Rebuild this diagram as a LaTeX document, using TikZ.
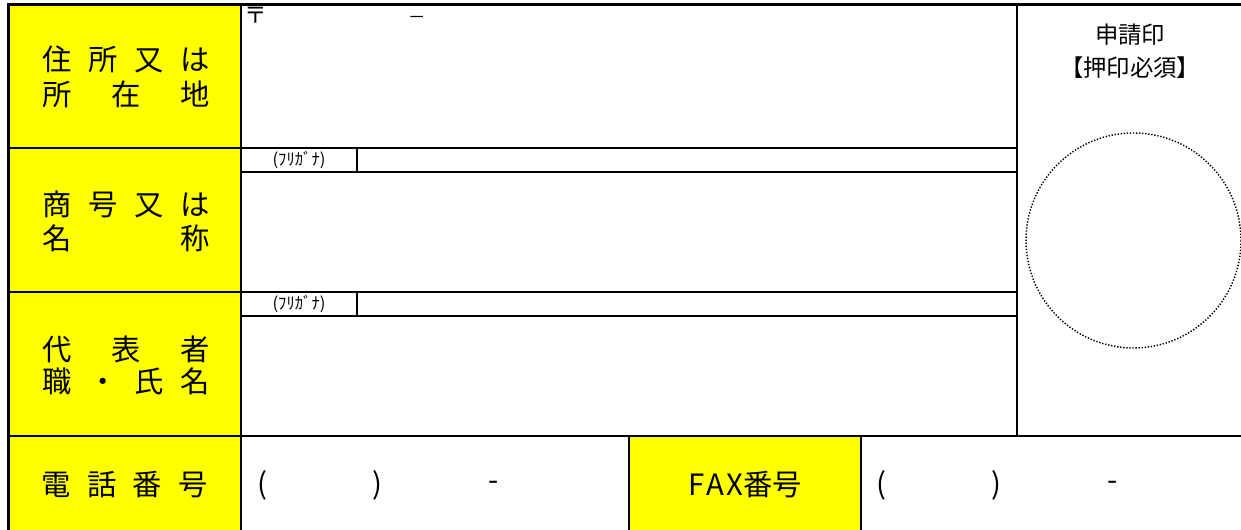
\documentclass[tikz,border=0pt]{standalone}
\usepackage{fontspec}
\setmainfont{Noto Sans CJK JP}
\definecolor{labelyellow}{HTML}{FFFF00}
\begin{document}
\begin{tikzpicture}[x=0.75pt,y=-0.75pt,
  thinline/.style={line width=0.8pt},
  thickline/.style={line width=2pt},
  lab/.style={font=\fontsize{22}{26}\selectfont, inner sep=0pt, anchor=center},
  seal/.style={font=\fontsize{17.5}{20}\selectfont, inner sep=0pt, anchor=center},
  kana/.style={font=\fontsize{12.5}{14}\selectfont, inner sep=0pt, anchor=center},
  zipmark/.style={font=\fontsize{17}{19}\selectfont, inner sep=0pt, anchor=center},
  zipdash/.style={font=\fontsize{13}{15}\selectfont, inner sep=0pt, anchor=center},
  dotring/.style={line width=1.1pt, dash pattern=on 1pt off 1.3pt}]
\useasboundingbox (0,0) rectangle (1241,530);
\fill[white] (0,0) rectangle (1241,530);
% yellow label cells
\fill[labelyellow] (8.5,4.5) rectangle (241,530);
\fill[labelyellow] (629,436) rectangle (861,530);
% thin rules
\draw[thinline] (8.5,148) -- (1017,148);
\draw[thinline] (8.5,292) -- (1017,292);
\draw[thinline] (241,172) -- (1017,172);
\draw[thinline] (241,316) -- (1017,316);
\draw[thinline] (357,148) -- (357,172);
\draw[thinline] (357,292) -- (357,316);
\draw[thinline] (8.5,436) -- (1241,436);
\draw[thinline] (241,4.5) -- (241,530);
\draw[thinline] (1017,4.5) -- (1017,436);
\draw[thinline] (629,436) -- (629,530);
\draw[thinline] (861,436) -- (861,530);
% thick outer border
\draw[thickline] (8.5,530) -- (8.5,3.5);
\draw[thickline] (7.5,4.5) -- (1241,4.5);
% labels
\node[lab] (l1a) at (126,59.5) {\makebox[125.5pt]{住\hfill 所\hfill 又\hfill は}};
\node[lab] (l1b) at (126,94) {\makebox[125.5pt]{所\hfill 在\hfill 地}};
\node[lab] (l2a) at (126,204) {\makebox[125.5pt]{商\hfill 号\hfill 又\hfill は}};
\node[lab] (l2b) at (126,238) {\makebox[125.5pt]{名\hfill 称}};
\node[lab] (l3a) at (126,349) {\makebox[125.5pt]{代\hfill 表\hfill 者}};
\node[lab] (l3b) at (126,381) {\makebox[125.5pt]{職\hfill ・\hfill 氏\hfill 名}};
\node[lab] (l4) at (124.5,485) {\makebox[124.5pt]{電\hfill 話\hfill 番\hfill 号}};
\node[lab] (fax) at (745,485) {F\kern1.5pt A\kern1.5pt X番号};
% telephone blanks
\node[lab] (tp1) at (262,485) {(};
\node[lab] (tp2) at (377,485) {)};
\node[lab] (td) at (494,486) {-};
\node[lab] (fp1) at (881,485) {(};
\node[lab] (fp2) at (996,485) {)};
\node[lab] (fd) at (1113,486) {-};
% address marks
\node[zipmark] (zip) at (255.5,15.5) {〒};
\node[zipdash] (zd) at (417,20) {－};
% furigana
\node[kana] (k1) at (299,160) {(ﾌﾘｶﾞﾅ)};
\node[kana] (k2) at (299,304) {(ﾌﾘｶﾞﾅ)};
% seal
\node[seal] (s1) at (1130,35) {申請印};
\node[seal] (s2) at (1130,68) {【押印必須】};
\draw[dotring] (1133.5,240.5) circle[radius=107.5];
\end{tikzpicture}
\end{document}
